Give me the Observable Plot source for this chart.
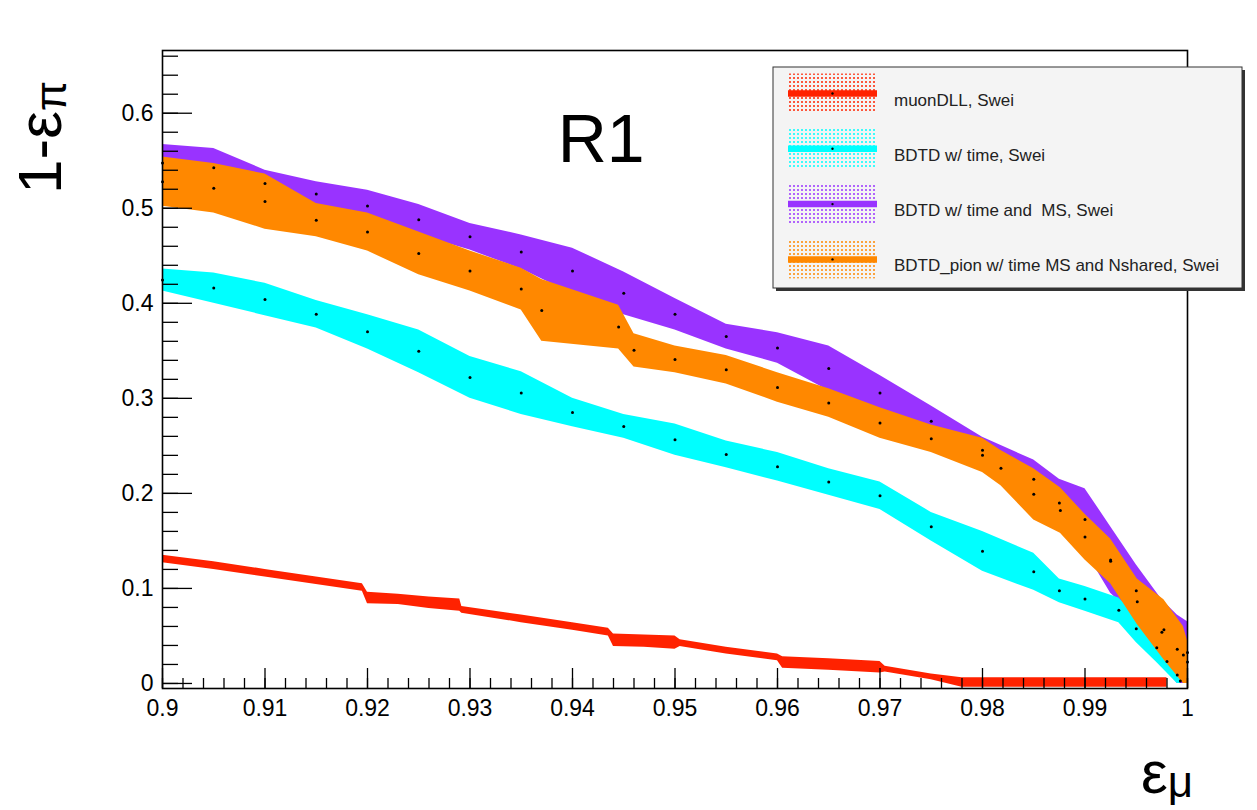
<!DOCTYPE html>
<html><head><meta charset="utf-8">
<script src="https://cdn.jsdelivr.net/npm/d3@7"></script>
<script src="https://cdn.jsdelivr.net/npm/@observablehq/plot@0.6"></script>
<style>
body{margin:0;background:#fff;}
#chart{width:1257px;height:810px;}
</style></head><body><div id="chart"></div>
<script>
// ---- data ----
const seriesNames = ["muonDLL, Swei", "BDTD w/ time, Swei", "BDTD w/ time and  MS, Swei", "BDTD_pion w/ time MS and Nshared, Swei"];
const seriesColors = ["#ff2200", "#00ffff", "#9933ff", "#ff8800"];

const redX  = [0.900,0.905,0.910,0.915,0.9195,0.920,0.923,0.926,0.929,0.9292,0.935,0.940,0.9435,0.944,0.947,0.950,0.9505,0.955,0.960,0.9605,0.965,0.970,0.9705,0.975,0.978,0.985,0.990,0.995,0.998];
const redLo = [0.127,0.120,0.112,0.104,0.097,0.084,0.083,0.079,0.076,0.074,0.064,0.056,0.050,0.039,0.038,0.036,0.039,0.031,0.024,0.016,0.014,0.011,0.012,0.004,-0.004,-0.004,-0.004,-0.004,-0.004];
const redHi = [0.135,0.128,0.120,0.112,0.105,0.096,0.094,0.091,0.089,0.081,0.072,0.064,0.058,0.052,0.051,0.050,0.046,0.038,0.031,0.028,0.026,0.023,0.018,0.010,0.006,0.006,0.006,0.006,0.006];

const cyanX  = [0.900,0.905,0.910,0.915,0.920,0.925,0.930,0.935,0.940,0.945,0.950,0.955,0.960,0.965,0.970,0.975,0.980,0.985,0.9875,0.990,0.9933,0.995,0.997,0.998,0.999,0.9993];
const cyanLo = [0.413,0.400,0.387,0.374,0.352,0.327,0.300,0.283,0.270,0.258,0.240,0.227,0.213,0.198,0.183,0.150,0.118,0.098,0.085,0.076,0.064,0.043,0.022,0.011,0.000,0.000];
const cyanHi = [0.436,0.432,0.421,0.403,0.388,0.372,0.344,0.328,0.300,0.283,0.273,0.255,0.243,0.226,0.212,0.180,0.160,0.137,0.110,0.102,0.090,0.072,0.053,0.035,0.018,0.005];

const purpleX  = [0.900,0.905,0.910,0.915,0.920,0.925,0.930,0.935,0.940,0.945,0.950,0.955,0.960,0.965,0.970,0.975,0.980,0.985,0.9875,0.990,0.9925,0.995,0.9975,0.999,1.000];
const purpleLo = [0.528,0.522,0.512,0.502,0.486,0.472,0.456,0.436,0.410,0.388,0.372,0.352,0.337,0.308,0.287,0.260,0.232,0.195,0.165,0.140,0.095,0.070,0.020,0.000,0.000];
const purpleHi = [0.567,0.563,0.540,0.528,0.519,0.504,0.484,0.472,0.458,0.433,0.405,0.378,0.369,0.355,0.324,0.292,0.259,0.235,0.215,0.205,0.165,0.125,0.088,0.072,0.065];

const orangeX  = [0.900,0.905,0.910,0.915,0.920,0.925,0.930,0.935,0.937,0.9445,0.946,0.950,0.955,0.960,0.965,0.970,0.975,0.980,0.9818,0.985,0.9876,0.990,0.9925,0.9951,0.9977,0.9996,1.000];
const orangeLo = [0.502,0.495,0.478,0.470,0.455,0.430,0.413,0.393,0.360,0.352,0.333,0.327,0.315,0.296,0.280,0.258,0.243,0.222,0.208,0.172,0.158,0.130,0.105,0.062,0.025,0.000,0.000];
const orangeHi = [0.554,0.547,0.536,0.505,0.495,0.475,0.455,0.437,0.425,0.398,0.368,0.355,0.345,0.327,0.310,0.290,0.272,0.258,0.245,0.226,0.206,0.178,0.152,0.110,0.088,0.060,0.045];

const xMajorTicks = [0.90,0.91,0.92,0.93,0.94,0.95,0.96,0.97,0.98,0.99,1.00];
const yMajorTicks = [0,0.1,0.2,0.3,0.4,0.5,0.6];
const xMinorTicks = d3.range(0, 51).map(i => 0.9 + i * 0.002).filter(v => v <= 1.00001);
const yMinorTicks = d3.range(0, 34).map(i => i * 0.02).filter(v => v <= 0.666);
const annotation = [{label: "R1", x: 0.9428, y: 0.572}];

// ---- build tables ----
function table(xs, lo, hi) { return xs.map((x, i) => ({x, lo: lo[i], hi: hi[i], mid: (lo[i] + hi[i]) / 2})); }
const red = table(redX, redLo, redHi);
const cyan = table(cyanX, cyanLo, cyanHi);
const purple = table(purpleX, purpleLo, purpleHi);
const orange = table(orangeX, orangeLo, orangeHi);

const W = 1257, H = 810, mL = 162, mR = 70, mT = 50, mB = 122;
const frameW = W - mL - mR, frameH = H - mT - mB;
const fmt = d => String(+d.toFixed(3));

const plot = Plot.plot({
  width: W, height: H,
  marginLeft: mL, marginRight: mR, marginTop: mT, marginBottom: mB,
  style: {fontFamily: "Liberation Sans, Arial, sans-serif", background: "white", color: "black"},
  x: {domain: [0.9, 1.0]},
  y: {domain: [-0.0053, 0.666]},
  marks: [
    Plot.areaY(red, {x: "x", y1: "lo", y2: "hi", fill: seriesColors[0]}),
    Plot.areaY(purple, {x: "x", y1: "lo", y2: "hi", fill: seriesColors[2]}),
    Plot.areaY(cyan, {x: "x", y1: "lo", y2: "hi", fill: seriesColors[1]}),
    Plot.areaY(orange, {x: "x", y1: "lo", y2: "hi", fill: seriesColors[3]}),
    Plot.dot(purple, {x: "x", y: "mid", r: 1.5, fill: "black", stroke: null}),
    Plot.dot(cyan, {x: "x", y: "mid", r: 1.5, fill: "black", stroke: null}),
    Plot.dot(orange, {x: "x", y: "mid", r: 1.5, fill: "black", stroke: null}),
    Plot.tickX(xMinorTicks, {x: d => d, insetTop: frameH - 10, stroke: "black", strokeWidth: 1.3}),
    Plot.tickX(xMajorTicks, {x: d => d, insetTop: frameH - 20, stroke: "black", strokeWidth: 1.3}),
    Plot.tickY(yMinorTicks, {y: d => d, insetRight: frameW - 16, stroke: "black", strokeWidth: 1.3}),
    Plot.tickY(yMajorTicks, {y: d => d, insetRight: frameW - 30, stroke: "black", strokeWidth: 1.3}),
    Plot.axisX({ticks: xMajorTicks, tickSize: 0, tickPadding: 11, fontSize: 23, tickFormat: fmt, label: null}),
    Plot.axisY({ticks: yMajorTicks, tickSize: 0, tickPadding: 9, fontSize: 23, tickFormat: fmt, label: null}),
    Plot.frame({stroke: "black", strokeWidth: 1.6}),
    Plot.text(annotation, {x: "x", y: "y", text: "label", fontSize: 68, fill: "black", lineAnchor: "middle"})
  ]
});
document.getElementById("chart").appendChild(plot);

// ---- axis titles and legend ----
const svg = d3.select(plot);
const ff = "Liberation Sans, Arial, sans-serif";
const yl = svg.append("text").attr("transform", "translate(61,194) rotate(-90)")
  .attr("text-anchor", "start").attr("font-family", ff).attr("font-size", 62).attr("fill", "black");
yl.append("tspan").text("1-ε");
yl.append("tspan").attr("font-size", 44).attr("dy", 5).text("π");

const xl = svg.append("text").attr("x", 1141).attr("y", 793).attr("text-anchor", "start")
  .attr("font-family", ff).attr("font-size", 60).attr("fill", "black");
xl.append("tspan").text("ε");
xl.append("tspan").attr("font-size", 44).attr("dy", 4).text("μ");

const defs = svg.append("defs");
seriesColors.forEach((c, i) => {
  const p = defs.append("pattern").attr("id", "pat" + i).attr("width", 4).attr("height", 4).attr("patternUnits", "userSpaceOnUse");
  p.append("circle").attr("cx", 2).attr("cy", 2).attr("r", 1).attr("fill", c);
});
const lg = svg.append("g");
lg.append("rect").attr("x", 776).attr("y", 70).attr("width", 469).attr("height", 221).attr("fill", "#333");
lg.append("rect").attr("x", 773).attr("y", 67).attr("width", 469).attr("height", 221)
  .attr("fill", "#f4f4f4").attr("stroke", "#333").attr("stroke-width", 1);
seriesNames.forEach((name, i) => {
  const ly = 93.5 + i * 55.3;
  lg.append("rect").attr("x", 788).attr("y", ly - 20).attr("width", 89).attr("height", 39).attr("fill", `url(#pat${i})`);
  lg.append("line").attr("x1", 788).attr("x2", 877).attr("y1", ly).attr("y2", ly)
    .attr("stroke", seriesColors[i]).attr("stroke-width", 6.5);
  lg.append("circle").attr("cx", 832.5).attr("cy", ly).attr("r", 1.2).attr("fill", "black");
  lg.append("text").attr("x", 894).attr("y", ly + 12).attr("text-anchor", "start").attr("font-family", ff).attr("font-size", 17)
    .attr("fill", "#222").text(name);
});
</script></body></html>
